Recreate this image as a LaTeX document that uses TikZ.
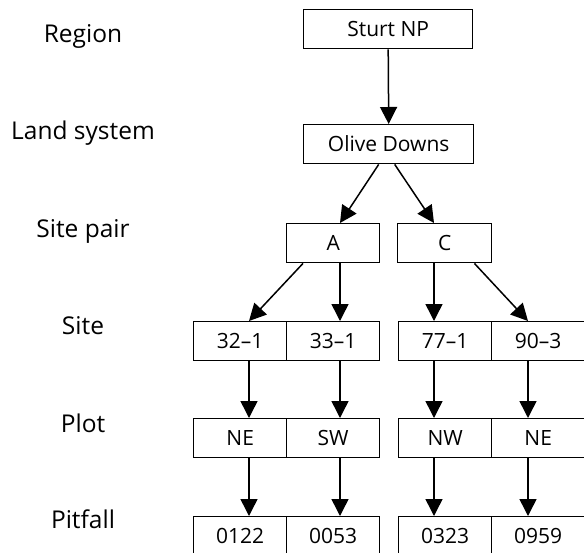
\documentclass[tikz,border=0pt]{standalone}
\usepackage{fontspec}
\setmainfont{Open Sans}
\usetikzlibrary{arrows.meta,calc}
\begin{document}
\begin{tikzpicture}[x=1pt,y=-1pt,
  box/.style={draw,line width=1.4pt,minimum height=39pt,inner sep=0pt,
    text height=14.5pt,text depth=0pt,anchor=north west,
    font=\fontsize{21}{21}\selectfont},
  lab/.style={anchor=base,font=\fontsize{24.5}{24.5}\selectfont},
  arr/.style={line width=1.5pt,-{Triangle[length=17pt,width=17pt]}}]
\useasboundingbox (0,0) rectangle (584,552);
% level labels
\node[lab] (l1) at (83,42) {Region};
\node[lab] (l2) at (83,139) {Land system};
\node[lab] (l3) at (83,237) {Site pair};
\node[lab] (l4) at (83,334) {Site};
\node[lab] (l5) at (83,432) {Plot};
\node[lab] (l6) at (83,528) {Pitfall};
% boxes
\node[box,minimum width=169pt] (sturt) at (303,9) {Sturt NP};
\node[box,minimum width=170pt] (olive) at (303,124) {Olive Downs};
\node[box,minimum width=93pt] (a) at (286,223) {A};
\node[box,minimum width=94pt] (c) at (397,223) {C};
\node[box,minimum width=93pt] (s1) at (193,321) {32–1};
\node[box,minimum width=93pt] (s2) at (286,321) {33–1};
\node[box,minimum width=93pt] (s3) at (398,321) {77–1};
\node[box,minimum width=93pt] (s4) at (491,321) {90–3};
\node[box,minimum width=93pt] (p1) at (193,418) {NE};
\node[box,minimum width=93pt] (p2) at (286,418) {SW};
\node[box,minimum width=93pt] (p3) at (398,418) {NW};
\node[box,minimum width=93pt] (p4) at (491,418) {NE};
\node[box,minimum width=93pt] (f1) at (193,516) {0122};
\node[box,minimum width=93pt] (f2) at (286,516) {0053};
\node[box,minimum width=93pt] (f3) at (398,516) {0323};
\node[box,minimum width=93pt] (f4) at (491,516) {0959};
% column positions of arrows
\coordinate (x1) at (249,0);
\coordinate (x2) at (340,0);
\coordinate (x3) at (434,0);
\coordinate (x4) at (528,0);
% connectors
\draw[arr] (sturt.south) -- (olive.north);
\draw[arr] ($(olive.south)+(-10,0)$) -- (a.north -| x2);
\draw[arr] ($(olive.south)+(6,0)$) -- (c.north -| x3);
\draw[arr] ($(a.south west)+(17,0)$) -- (s1.north -| x1);
\draw[arr] (a.south -| x2) -- (s2.north -| x2);
\draw[arr] (c.south -| x3) -- (s3.north -| x3);
\draw[arr] ($(c.south east)+(-18,0)$) -- (s4.north -| x4);
\draw[arr] (s1.south -| x1) -- (p1.north -| x1);
\draw[arr] (s2.south -| x2) -- (p2.north -| x2);
\draw[arr] (s3.south -| x3) -- (p3.north -| x3);
\draw[arr] (s4.south -| x4) -- (p4.north -| x4);
\draw[arr] (p1.south -| x1) -- (f1.north -| x1);
\draw[arr] (p2.south -| x2) -- (f2.north -| x2);
\draw[arr] (p3.south -| x3) -- (f3.north -| x3);
\draw[arr] (p4.south -| x4) -- (f4.north -| x4);
\end{tikzpicture}
\end{document}
